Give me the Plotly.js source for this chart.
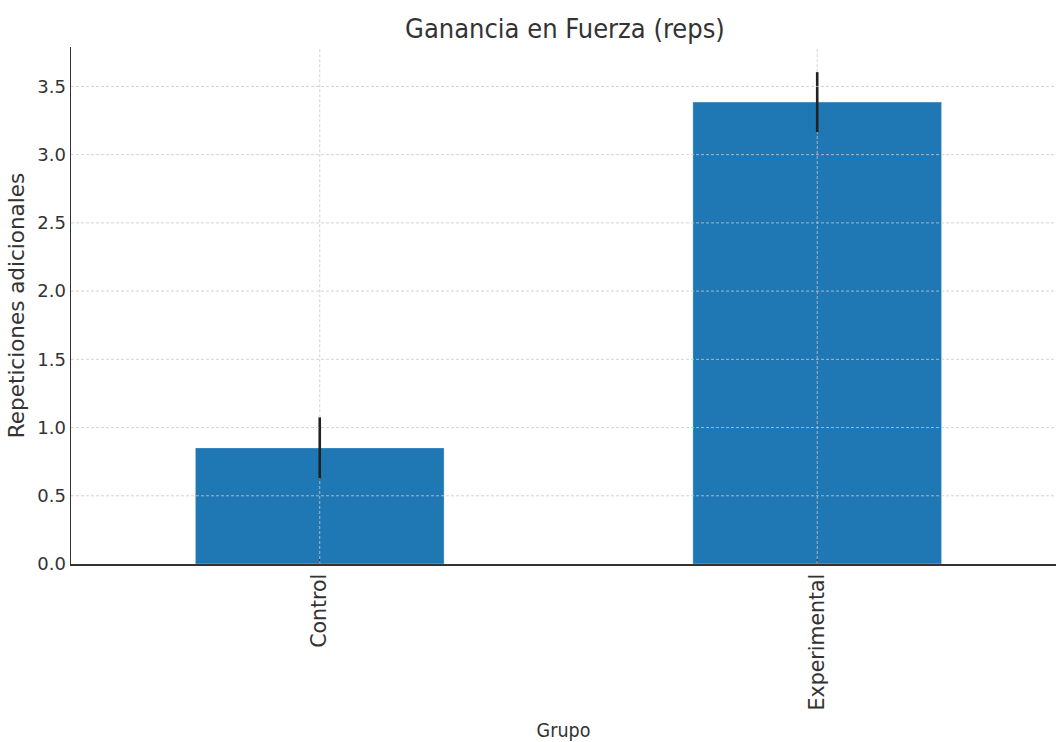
<!DOCTYPE html>
<html>
<head>
<meta charset="utf-8">
<script src="https://cdn.plot.ly/plotly-3.0.1.min.js"></script>
<style>html,body{margin:0;padding:0;background:#fff;}#chart{width:1056px;height:742px;}</style>
</head>
<body>
<div id="chart"></div>
<script>
const categories = ["Control", "Experimental"];
const means = [0.851, 3.385];
const errors = [0.224, 0.22];
const yTicks = [0.0, 0.5, 1.0, 1.5, 2.0, 2.5, 3.0, 3.5];
const yTickText = ["0.0", "0.5", "1.0", "1.5", "2.0", "2.5", "3.0", "3.5"];

const yMax = 3.789;
const gridColor = "rgba(200,200,200,0.8)";
const gridDash = "3px,2px";
const shapes = [];
yTicks.forEach(v => {
  if (v === 0) return;
  shapes.push({type: "line", xref: "paper", yref: "y", x0: 0, x1: 1, y0: v, y1: v,
    line: {color: gridColor, width: 1, dash: gridDash}, layer: "above"});
});
// vertical grid lines, interrupted where the error bar is drawn so it stays on top
categories.forEach((c, i) => {
  const lo = means[i] - errors[i], hi = means[i] + errors[i];
  shapes.push({type: "line", xref: "x", yref: "y", x0: c, x1: c, y0: 0, y1: lo,
    line: {color: gridColor, width: 1, dash: gridDash}, layer: "above"});
  shapes.push({type: "line", xref: "x", yref: "y", x0: c, x1: c, y0: hi, y1: yMax,
    line: {color: gridColor, width: 1, dash: gridDash}, layer: "above"});
});

const trace = {
  type: "bar",
  x: categories,
  y: means,
  width: 0.5,
  marker: {color: "#1f77b4", line: {color: "rgba(255,255,255,0.35)", width: 1}},
  error_y: {type: "data", array: errors, visible: true, color: "#222", thickness: 2.6, width: 0},
  hoverinfo: "none"
};

const layout = {
  width: 1056, height: 742,
  paper_bgcolor: "#fff", plot_bgcolor: "#fff",
  margin: {l: 71, r: 0, t: 47, b: 178},
  showlegend: false,
  title: {text: "Ganancia en Fuerza (reps)", x: 0.535, xanchor: "center", y: 0.962, yanchor: "middle",
    font: {family: "DejaVu Sans Condensed, DejaVu Sans", size: 27, color: "#333"}},
  xaxis: {
    range: [-0.5, 1.48], type: "category",
    showgrid: false, zeroline: false,
    showline: true, linecolor: "#333", linewidth: 1.5,
    ticks: "inside", ticklen: 5, tickcolor: "#333", tickwidth: 1.2,
    tickangle: -90,
    tickfont: {family: "DejaVu Sans", size: 20.5, color: "#333"},
    title: {text: "Grupo", standoff: 16, font: {family: "DejaVu Sans Condensed, DejaVu Sans", size: 19.5, color: "#333"}}
  },
  yaxis: {
    range: [0, yMax],
    tickvals: yTicks, ticktext: yTickText,
    showgrid: false, zeroline: false,
    showline: true, linecolor: "#333", linewidth: 1.5,
    ticks: "",
    tickfont: {family: "DejaVu Sans", size: 18, color: "#333"},
    title: {text: "Repeticiones adicionales", standoff: 6, font: {family: "DejaVu Sans", size: 21.5, color: "#333"}}
  },
  shapes: shapes
};

Plotly.newPlot("chart", [trace], layout, {displayModeBar: false, staticPlot: true});
</script>
</body>
</html>
